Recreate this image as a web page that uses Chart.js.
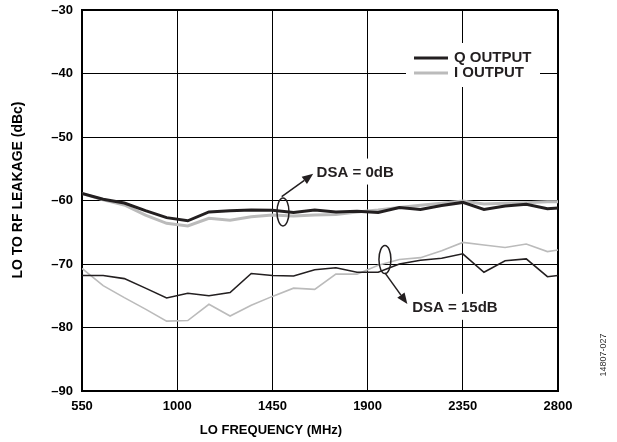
<!DOCTYPE html>
<html>
<head>
<meta charset="utf-8">
<script src="https://cdn.jsdelivr.net/npm/chart.js@4.4.0/dist/chart.umd.min.js"></script>
<style>
  html, body { margin: 0; padding: 0; background: #fff; }
  #chart { display: block; }
</style>
</head>
<body>
<canvas id="chart" width="617" height="442"></canvas>
<script>
// LO frequency points (MHz)
var freqMHz = [550, 650, 750, 850, 950, 1050, 1150, 1250, 1350, 1450, 1550, 1650,
               1750, 1850, 1950, 2050, 2150, 2250, 2350, 2450, 2550, 2650, 2750, 2800];

// leakage in dBc, DSA = 0dB
var qOutput0dB = [-58.9, -59.8, -60.4, -61.6, -62.7, -63.2, -61.8, -61.6, -61.5, -61.55, -61.9, -61.5,
                  -61.8, -61.7, -61.9, -61.1, -61.4, -60.8, -60.3, -61.4, -60.85, -60.6, -61.3, -61.2];
var iOutput0dB = [-58.9, -59.9, -60.7, -62.3, -63.6, -64.0, -62.8, -63.1, -62.55, -62.3, -62.45, -62.3,
                  -62.2, -61.8, -61.5, -61.1, -60.75, -60.45, -60.1, -60.55, -60.45, -60.35, -60.2, -60.2];

// leakage in dBc, DSA = 15dB
var qOutput15dB = [-71.8, -71.8, -72.3, -73.8, -75.35, -74.6, -75.0, -74.5, -71.5, -71.8, -71.9, -70.9,
                   -70.6, -71.3, -71.3, -70.0, -69.4, -69.1, -68.4, -71.3, -69.5, -69.2, -72.0, -71.8];
var iOutput15dB = [-70.7, -73.4, -75.3, -77.1, -79.0, -78.9, -76.35, -78.2, -76.5, -75.1, -73.8, -74.0,
                   -71.6, -71.6, -70.2, -69.3, -69.0, -67.9, -66.6, -67.0, -67.4, -66.85, -68.05, -67.8];

var seriesLabels = ['Q OUTPUT', 'I OUTPUT'];
var dsaLabels = ['DSA = 0dB', 'DSA = 15dB'];

var FONT = 'Arial, "Liberation Sans", Helvetica, sans-serif';
var BLACK = '#231f20';
var GRAY = '#bbbbbb';

function points(ys) {
    return freqMHz.map(function(f, i) { return {x: f, y: ys[i]}; });
}

function arrow(ctx, x0, y0, x1, y1) {
    var ang = Math.atan2(y1 - y0, x1 - x0);
    var len = 11, hw = 4.5;
    var bx = x1 - len * Math.cos(ang), by = y1 - len * Math.sin(ang);
    ctx.beginPath();
    ctx.moveTo(x0, y0);
    ctx.lineTo(bx, by);
    ctx.stroke();
    ctx.beginPath();
    ctx.moveTo(x1, y1);
    ctx.lineTo(bx + hw * Math.sin(ang), by - hw * Math.cos(ang));
    ctx.lineTo(bx - hw * Math.sin(ang), by + hw * Math.cos(ang));
    ctx.closePath();
    ctx.fill();
}

function callout(ctx, xs, ys, ell, from, tip, txt, label) {
    // ellipse around the curves + arrow + label on white
    var ex = xs.getPixelForValue(ell[0]), ey = ys.getPixelForValue(ell[1]);
    ctx.beginPath();
    ctx.ellipse(ex, ey, 6, 14, 0, 0, Math.PI * 2);
    ctx.stroke();
    arrow(ctx, xs.getPixelForValue(from[0]), ys.getPixelForValue(from[1]),
          xs.getPixelForValue(tip[0]), ys.getPixelForValue(tip[1]));
    var tx = xs.getPixelForValue(txt[0]), ty = ys.getPixelForValue(txt[1]);
    ctx.font = 'bold 15px ' + FONT;
    var w = ctx.measureText(label).width;
    ctx.fillStyle = '#fff';
    ctx.fillRect(tx - 2, ty - 14, w + 4, 26);
    ctx.fillStyle = BLACK;
    ctx.textBaseline = 'middle';
    ctx.textAlign = 'left';
    ctx.fillText(label, tx, ty);
}

var overlay = {
    id: 'overlay',
    afterDatasetsDraw: function(chart) {
        var ctx = chart.ctx, area = chart.chartArea;
        var xs = chart.scales.x, ys = chart.scales.y;
        ctx.save();

        // legend inside the plot
        var lx = area.left + 324, ly = area.top + 33;
        ctx.fillStyle = '#fff';
        ctx.fillRect(lx, ly, 134, 44);
        ctx.lineWidth = 3;
        [BLACK, GRAY].forEach(function(c, i) {
            ctx.strokeStyle = c;
            ctx.beginPath();
            ctx.moveTo(lx + 8, ly + 15 + i * 15);
            ctx.lineTo(lx + 42, ly + 15 + i * 15);
            ctx.stroke();
            ctx.fillStyle = BLACK;
            ctx.font = 'bold 15px ' + FONT;
            ctx.textBaseline = 'middle';
            ctx.fillText(seriesLabels[i], lx + 48, ly + 15 + i * 15);
        });

        ctx.strokeStyle = BLACK;
        ctx.fillStyle = BLACK;
        ctx.lineWidth = 1.5;
        callout(ctx, xs, ys, [1500, -61.8], [1494, -59.4], [1643, -55.8], [1659, -55.6], dsaLabels[0]);
        ctx.strokeStyle = BLACK;
        ctx.fillStyle = BLACK;
        callout(ctx, xs, ys, [1982, -69.3], [1982, -71.4], [2088, -76.3], [2111, -76.9], dsaLabels[1]);
        ctx.restore();
    },
    afterDraw: function(chart) {
        var ctx = chart.ctx;
        ctx.save();
        ctx.fillStyle = '#000';
        ctx.textAlign = 'center';
        ctx.textBaseline = 'middle';
        ctx.font = 'bold 13px ' + FONT;
        ctx.fillText('LO FREQUENCY (MHz)', 271, 430);
        ctx.save();
        ctx.translate(18, 190);
        ctx.rotate(-Math.PI / 2);
        ctx.font = 'bold 14px ' + FONT;
        ctx.fillText('LO TO RF LEAKAGE (dBc)', 0, 0);
        ctx.restore();
        ctx.translate(604, 355);
        ctx.rotate(-Math.PI / 2);
        ctx.font = '9px ' + FONT;
        ctx.fillStyle = '#333';
        ctx.fillText('14807-027', 0, 0);
        ctx.restore();
    }
};

function gridWidth(c) {
    return c.index === c.scale.ticks.length - 1 ? 2 : 1;
}

new Chart(document.getElementById('chart').getContext('2d'), {
    type: 'line',
    data: {
        datasets: [
            {label: 'Q OUTPUT DSA 0dB', data: points(qOutput0dB), borderColor: BLACK, borderWidth: 3},
            {label: 'I OUTPUT DSA 0dB', data: points(iOutput0dB), borderColor: GRAY, borderWidth: 3},
            {label: 'Q OUTPUT DSA 15dB', data: points(qOutput15dB), borderColor: BLACK, borderWidth: 1.6},
            {label: 'I OUTPUT DSA 15dB', data: points(iOutput15dB), borderColor: GRAY, borderWidth: 1.6}
        ]
    },
    options: {
        responsive: false,
        animation: false,
        devicePixelRatio: 1,
        elements: {point: {radius: 0}, line: {tension: 0, fill: false}},
        layout: {padding: {left: 0, right: 59, top: 10, bottom: 0}},
        plugins: {legend: {display: false}, tooltip: {enabled: false}},
        scales: {
            x: {
                type: 'linear',
                min: 550,
                max: 2800,
                afterFit: function(s) { s.height = 51; },
                ticks: {stepSize: 450, color: '#000', padding: 8, maxRotation: 0,
                        font: {family: FONT, size: 13, weight: 'bold'},
                        callback: function(v) { return String(v); }},
                grid: {color: '#000', lineWidth: gridWidth, drawTicks: false},
                border: {color: '#000', width: 2}
            },
            y: {
                min: -90,
                max: -30,
                afterFit: function(s) { s.width = 82; s.paddingTop = 8; s.paddingBottom = 0; },
                ticks: {stepSize: 10, color: '#000', padding: 9,
                        font: {family: FONT, size: 13, weight: 'bold'},
                        callback: function(v) { return '\u2013' + Math.abs(v); }},
                grid: {color: '#000', lineWidth: gridWidth, drawTicks: false},
                border: {color: '#000', width: 2}
            }
        }
    },
    plugins: [overlay]
});
</script>
</body>
</html>
